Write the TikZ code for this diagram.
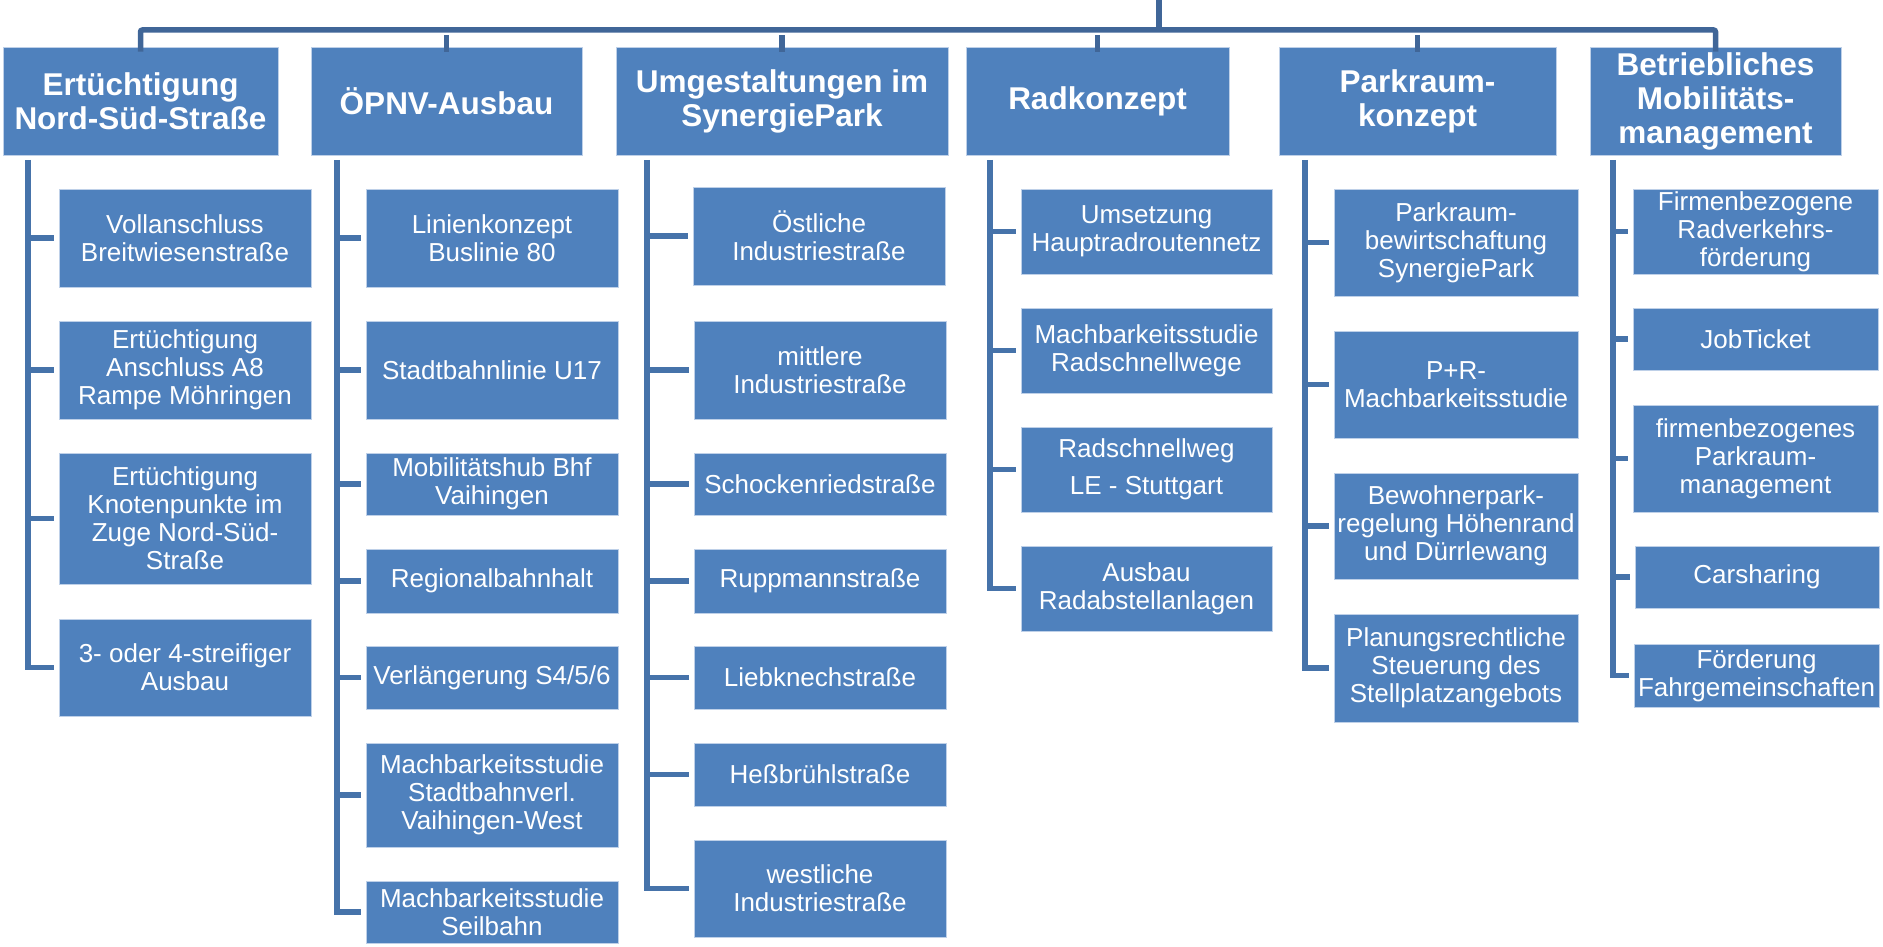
\documentclass[tikz,border=0pt]{standalone}
\usepackage{fontspec}
\setmainfont{Liberation Sans}
\definecolor{boxfill}{RGB}{79,129,189}
\definecolor{boxedge}{RGB}{190,208,232}
\definecolor{busline}{RGB}{64,102,152}
\definecolor{spineline}{RGB}{70,115,170}
\tikzset{
  hdrbox/.style={fill=boxfill, draw=boxedge, line width=0.8pt, inner sep=0pt, align=center, text=white,
    font=\fontsize{31.5}{34}\selectfont\bfseries},
  itembox/.style={fill=boxfill, draw=boxedge, line width=0.8pt, inner sep=0pt, align=center, text=white,
    font=\fontsize{26}{28}\selectfont},
  busconn/.style={draw=busline, line width=5.5pt, rounded corners=2pt},
  spineconn/.style={draw=spineline, line width=5.5pt, line join=miter},
}
\newcommand{\rbox}[7]{\node[#1, minimum width={(#4)-(#2)}, minimum height={(#5)-(#3)}] (#6) at ({((#2)+(#4))/2},{((#3)+(#5))/2}) {#7};}
\newcommand{\colconn}[4]{%
  \coordinate (#1top) at (#2,160);
  \draw[spineconn] (#1top) |- ([xshift=-5pt]#3.west);
  \foreach \n in {#4}{
    \draw[spineconn] (\n.west -| #1top) -- ([xshift=-5pt]\n.west);
  }%
}
\begin{document}
\begin{tikzpicture}[x=1pt,y=-1pt]
\useasboundingbox (0,0) rectangle (1883,947);
% headers
\rbox{hdrbox}{3}{47}{278}{155}{h1}{Ertüchtigung\\Nord-Süd-Straße}
\rbox{hdrbox}{311}{47}{582}{155}{h2}{ÖPNV-Ausbau}
\rbox{hdrbox}{616}{47}{948}{155}{h3}{Umgestaltungen im\\SynergiePark}
\rbox{hdrbox}{966}{47}{1229}{155}{h4}{Radkonzept}
\rbox{hdrbox}{1279}{47}{1556}{155}{h5}{Parkraum-\\konzept}
\rbox{hdrbox}{1590}{47}{1841}{155}{h6}{Betriebliches\\Mobilitäts-\\management}
% top connectors
\coordinate (root) at (1159,0);
\coordinate (bus) at (1159,30);
\draw[busconn] (root) -- (bus);
\draw[busconn] ([yshift=-5pt]h1.north) |- (bus) -| ([yshift=-5pt]h6.north);
\foreach \h in {h2,h3,h4,h5}{
  \draw[busconn] ([yshift=-5pt]\h.north) -- ([yshift=-5pt]\h.north |- bus);
}
% column 1
\rbox{itembox}{59}{189}{311}{287}{a1}{Vollanschluss\\Breitwiesenstraße}
\rbox{itembox}{59}{321}{311}{419}{a2}{Ertüchtigung\\Anschluss A8\\Rampe Möhringen}
\rbox{itembox}{59}{453}{311}{584}{a3}{Ertüchtigung\\Knotenpunkte im\\Zuge Nord-Süd-\\Straße}
\rbox{itembox}{59}{619}{311}{716}{a4}{3- oder 4-streifiger\\Ausbau}
% column 2
\rbox{itembox}{366}{189}{618}{287}{b1}{Linienkonzept\\Buslinie 80}
\rbox{itembox}{366}{321}{618}{419}{b2}{Stadtbahnlinie U17}
\rbox{itembox}{366}{453}{618}{515}{b3}{Mobilitätshub Bhf\\Vaihingen}
\rbox{itembox}{366}{549}{618}{613}{b4}{Regionalbahnhalt}
\rbox{itembox}{366}{646}{618}{709}{b5}{Verlängerung S4/5/6}
\rbox{itembox}{366}{743}{618}{847}{b6}{Machbarkeitsstudie\\Stadtbahnverl.\\Vaihingen-West}
\rbox{itembox}{366}{881}{618}{943}{b7}{Machbarkeitsstudie\\Seilbahn}
% column 3
\rbox{itembox}{693}{187}{945}{285}{c1}{Östliche\\Industriestraße}
\rbox{itembox}{694}{321}{946}{419}{c2}{mittlere\\Industriestraße}
\rbox{itembox}{694}{453}{946}{515}{c3}{Schockenriedstraße}
\rbox{itembox}{694}{549}{946}{613}{c4}{Ruppmannstraße}
\rbox{itembox}{694}{646}{946}{709}{c5}{Liebknechstraße}
\rbox{itembox}{694}{743}{946}{806}{c6}{Heßbrühlstraße}
\rbox{itembox}{694}{840}{946}{937}{c7}{westliche\\Industriestraße}
% column 4
\rbox{itembox}{1021}{189}{1272}{274}{d1}{Umsetzung\\Hauptradroutennetz}
\rbox{itembox}{1021}{308}{1272}{393}{d2}{Machbarkeitsstudie\\Radschnellwege}
\rbox{itembox}{1021}{427}{1272}{512}{d3}{Radschnellweg\\[9pt]LE - Stuttgart}
\rbox{itembox}{1021}{546}{1272}{631}{d4}{Ausbau\\Radabstellanlagen}
% column 5
\rbox{itembox}{1334}{189}{1578}{296}{e1}{Parkraum-\\bewirtschaftung\\SynergiePark}
\rbox{itembox}{1334}{331}{1578}{438}{e2}{P+R-\\Machbarkeitsstudie}
\rbox{itembox}{1334}{473}{1578}{579}{e3}{Bewohnerpark-\\regelung Höhenrand\\und Dürrlewang}
\rbox{itembox}{1334}{614}{1578}{722}{e4}{Planungsrechtliche\\Steuerung des\\Stellplatzangebots}
% column 6
\rbox{itembox}{1633}{189}{1878}{274}{f1}{Firmenbezogene\\Radverkehrs-\\förderung}
\rbox{itembox}{1633}{308}{1878}{370}{f2}{JobTicket}
\rbox{itembox}{1633}{405}{1878}{512}{f3}{firmenbezogenes\\Parkraum-\\management}
\rbox{itembox}{1635}{546}{1879}{608}{f4}{Carsharing}
\rbox{itembox}{1634}{644}{1879}{707}{f5}{Förderung\\Fahrgemeinschaften}
% spines and branches
\colconn{s1}{28}{a4}{a1,a2,a3}
\colconn{s2}{337}{b7}{b1,b2,b3,b4,b5,b6}
\colconn{s3}{647}{c7}{c1,c2,c3,c4,c5,c6}
\colconn{s4}{990}{d4}{d1,d2,d3}
\colconn{s5}{1305}{e4}{e1,e2,e3}
\colconn{s6}{1613}{f5}{f1,f2,f3,f4}
\end{tikzpicture}
\end{document}
